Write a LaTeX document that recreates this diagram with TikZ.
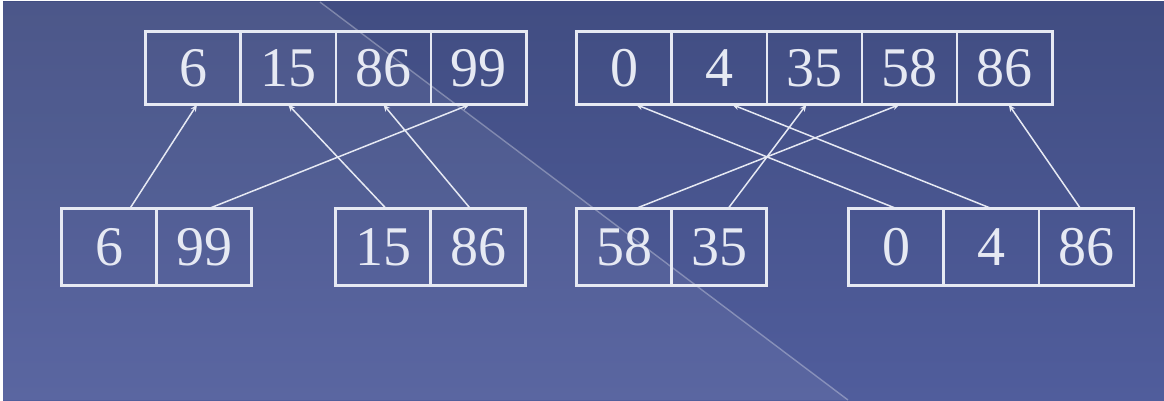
\documentclass[tikz,border=0pt]{standalone}
\usepackage{fontspec}
\setmainfont{Liberation Serif}
\usetikzlibrary{positioning,arrows.meta,fit}
\definecolor{bgtop}{HTML}{414D82}
\definecolor{bgbot}{HTML}{505D9C}
\definecolor{ink}{HTML}{E6E9F3}

\begin{document}
\begin{tikzpicture}[
  x=0.5pt,y=-0.5pt,
  >={Stealth[length=3.5pt,width=3pt]},
  cell/.style={draw=ink,line width=0.6pt,minimum width=47pt,minimum height=36pt,inner sep=0pt,
    text=ink,font=\fontsize{28}{30}\selectfont},
  lowcell/.style={cell,minimum height=38pt},
  frame/.style={draw=ink,line width=1.4pt,inner sep=0pt},
  link/.style={->,ink,line width=0.75pt},
]

% background
\fill[white] (0,0) rectangle (1164,400);
\shade[top color=bgtop,bottom color=bgbot] (3,2) rectangle (1164,400);
\fill[white,opacity=0.06] (3,2) -- (320,2) -- (848,400) -- (3,400) -- cycle;
\draw[white,opacity=0.3,line width=0.7pt] (320,2) -- (848,400);

% merged runs (top)
\node[cell] (t1) at (193,68) {6};
\node[cell,right=0pt of t1] (t2) {15};
\node[cell,right=0pt of t2] (t3) {86};
\node[cell,right=0pt of t3] (t4) {99};
\node[frame,fit=(t1)(t4)] {};

\node[cell] (b1) at (624,68) {0};
\node[cell,right=0pt of b1] (b2) {4};
\node[cell,right=0pt of b2] (b3) {35};
\node[cell,right=0pt of b3] (b4) {58};
\node[cell,right=0pt of b4] (b5) {86};
\node[frame,fit=(b1)(b5)] {};

% runs (bottom)
\node[lowcell] (p1) at (109,247) {6};
\node[lowcell,right=0pt of p1] (p2) {99};
\node[frame,fit=(p1)(p2)] {};

\node[lowcell] (q1) at (383,247) {15};
\node[lowcell,right=0pt of q1] (q2) {86};
\node[frame,fit=(q1)(q2)] {};

\node[lowcell] (r1) at (624,247) {58};
\node[lowcell,right=0pt of r1] (r2) {35};
\node[frame,fit=(r1)(r2)] {};

\node[lowcell] (s1) at (896,247) {0};
\node[lowcell,right=0pt of s1] (s2) {4};
\node[lowcell,right=0pt of s2] (s3) {86};
\node[frame,fit=(s1)(s3)] {};

% where each key goes
\draw[link] ([xshift=10.5pt]p1.north) -- ([xshift=2pt]t1.south);
\draw[link] ([xshift=2.5pt]p2.north)  -- ([xshift=-4.5pt]t4.south);
\draw[link] ([xshift=1.5pt]q1.north)  -- (t2.south);
\draw[link] ([xshift=-4pt]q2.north)   -- (t3.south);

\draw[link] ([xshift=6pt]r1.north)   -- ([xshift=-5pt]b4.south);
\draw[link] ([xshift=4.5pt]r2.north) -- ([xshift=-4pt]b3.south);
\draw[link] (s1.north)               -- ([xshift=6pt]b1.south);
\draw[link] (s2.north)               -- ([xshift=6.5pt]b2.south);
\draw[link] ([xshift=-3pt]s3.north)  -- ([xshift=2pt]b5.south);
\end{tikzpicture}
\end{document}
